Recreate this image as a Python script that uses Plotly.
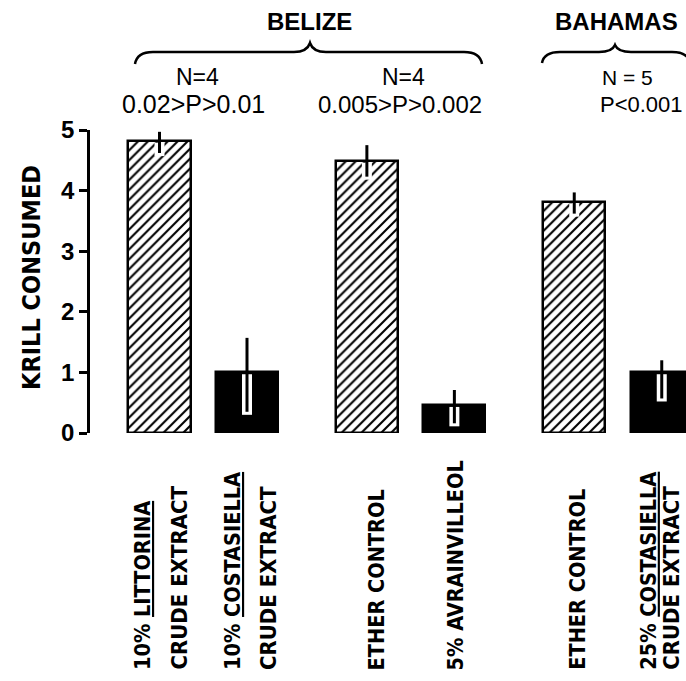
import plotly.graph_objects as go

# ---------------- data ----------------
label_line1 = ["10% <u>LITTORINA</u>", "10% <u>COSTASIELLA</u>", "ETHER CONTROL",
               "5% AVRAINVILLEOL", "ETHER CONTROL", "25% <u>COSTASIELLA</u>"]
label_line2 = ["CRUDE EXTRACT", "CRUDE EXTRACT", "", "", "", "CRUDE EXTRACT"]
treatment_kind = ["control", "test", "control", "test", "control", "test"]
pair_index = [0, 0, 1, 1, 2, 2]
krill_consumed = [4.82, 1.00, 4.49, 0.46, 3.82, 1.00]
err_up = [0.15, 0.57, 0.26, 0.25, 0.15, 0.20]
err_down = [0.20, 0.65, 0.26, 0.30, 0.20, 0.43]
site_names = ["BELIZE", "BAHAMAS"]
pair_n = ["N=4", "N=4", "N = 5"]
pair_p = ["0.02>P>0.01", "0.005>P>0.002", "P<0.001"]
y_ticks = [0, 1, 2, 3, 4, 5]

# ---------------- layout helpers ----------------
W, H = 686, 681
L, T, B, R = 90, 130, 248, 0
PW, PH = W - L - R, H - T - B
COND = "DejaVu Sans Condensed, DejaVu Sans, sans-serif"
SANS = "Liberation Sans, Arial, sans-serif"


def px(xp):
    return (xp - L) / PW


def py(yp):
    return (T + PH - yp) / PH


def tfont(size, fam=COND, weight="bold"):
    return dict(family=fam, size=size, color="black", weight=weight)


# bar positions: pairs separated by a wider gap
pos = []
seen = {}
for g in pair_index:
    k = seen.get(g, 0)
    pos.append(g * 2.37 + k * 1.0)
    seen[g] = k + 1

fig = go.Figure()

ctrl_x = [p for p, k in zip(pos, treatment_kind) if k == "control"]
ctrl_y = [v for v, k in zip(krill_consumed, treatment_kind) if k == "control"]
test_x = [p for p, k in zip(pos, treatment_kind) if k == "test"]
test_y = [v for v, k in zip(krill_consumed, treatment_kind) if k == "test"]

fig.add_trace(go.Bar(
    x=ctrl_x, y=ctrl_y, width=0.71,
    marker=dict(color="white", line=dict(color="black", width=2.5),
                pattern=dict(shape="/", fgcolor="black", bgcolor="white",
                             size=7, solidity=0.3, fillmode="replace")),
    showlegend=False, hoverinfo="skip",
))
fig.add_trace(go.Bar(
    x=test_x, y=test_y, width=0.71,
    marker=dict(color="black", line=dict(color="black", width=2.5)),
    showlegend=False, hoverinfo="skip",
))

# error bars: white halo inside the bar, black line on top
hx, hy, ex, ey = [], [], [], []
for xv, v, u, d in zip(pos, krill_consumed, err_up, err_down):
    hx += [xv, xv, None]
    hy += [v - d - 0.05, v - 0.03, None]
    ex += [xv, xv, None]
    ey += [v - d, v + u, None]
fig.add_trace(go.Scatter(x=hx, y=hy, mode="lines",
                         line=dict(color="white", width=10),
                         showlegend=False, hoverinfo="skip"))
fig.add_trace(go.Scatter(x=ex, y=ey, mode="lines",
                         line=dict(color="black", width=3),
                         showlegend=False, hoverinfo="skip"))

ann = []
# axis title
ann.append(dict(text="KRILL CONSUMED", xref="paper", yref="paper",
                x=px(31), y=py(278), textangle=-90, showarrow=False,
                xanchor="center", yanchor="middle", font=tfont(25)))

# bottom labels
off1 = [-17, -15, 10, 1, 3, -14]
off2 = [19, 21, 0, 0, 0, 9]
for i, xv in enumerate(pos):
    ann.append(dict(text=label_line1[i], xref="x", yref="paper", x=xv,
                    xshift=off1[i], y=py(672), textangle=-90, showarrow=False,
                    xanchor="center", yanchor="bottom", font=tfont(21.5)))
    if label_line2[i]:
        ann.append(dict(text=label_line2[i], xref="x", yref="paper", x=xv,
                        xshift=off2[i], y=py(672), textangle=-90, showarrow=False,
                        xanchor="center", yanchor="bottom", font=tfont(22)))

# site names
site_px = [309, 616]
for s, xp in zip(site_names, site_px):
    ann.append(dict(text=s, xref="paper", yref="paper", x=px(xp), y=py(22),
                    showarrow=False, xanchor="center", yanchor="middle",
                    font=tfont(24, SANS)))

# N and P statistics
n_px = [197, 403, 627]
p_px = [193, 400, 641]
p_size = [25, 24, 22]
for i in range(3):
    ann.append(dict(text=pair_n[i], xref="paper", yref="paper", x=px(n_px[i]), y=py(77),
                    showarrow=False, xanchor="center", yanchor="middle",
                    font=tfont(23 if i < 2 else 21, SANS, "normal")))
    ann.append(dict(text=pair_p[i], xref="paper", yref="paper", x=px(p_px[i]), y=py(104),
                    showarrow=False, xanchor="center", yanchor="middle",
                    font=tfont(p_size[i], SANS, "normal")))


def brace(x0, xm, x1, y_end, y_bar, y_peak):
    pts = lambda a, b: f"{px(a):.5f},{py(b):.5f}"
    return (f"M {pts(x0, y_end)} Q {pts(x0 + 2, y_bar)} {pts(x0 + 18, y_bar)} "
            f"L {pts(xm - 16, y_bar)} Q {pts(xm - 3, y_bar)} {pts(xm, y_peak)} "
            f"Q {pts(xm + 3, y_bar)} {pts(xm + 16, y_bar)} "
            f"L {pts(x1 - 18, y_bar)} Q {pts(x1 - 2, y_bar)} {pts(x1, y_end)}")


shapes = [
    dict(type="path", xref="paper", yref="paper", path=brace(135, 310, 482, 64, 52, 43),
         line=dict(color="black", width=2.5)),
    dict(type="path", xref="paper", yref="paper", path=brace(542, 615, 690, 63, 52, 45),
         line=dict(color="black", width=2.5)),
]

fig.update_layout(
    width=W, height=H,
    margin=dict(l=L, r=R, t=T, b=B, pad=0),
    paper_bgcolor="white", plot_bgcolor="white",
    annotations=ann, shapes=shapes,
    barmode="overlay", bargap=0,
    xaxis=dict(visible=False, range=[(L - 159.5) / 87.5, (W - 159.5) / 87.5]),
    yaxis=dict(range=[0, 5], tickvals=y_ticks, ticktext=[str(t) for t in y_ticks],
               showline=True, linecolor="black", linewidth=2.5,
               ticks="outside", ticklen=8, tickwidth=2.5, tickcolor="black",
               showgrid=False, zeroline=False,
               tickfont=tfont(24, SANS)),
)

fig.write_html("out.html", config={"displayModeBar": False},
               post_script="document.body.style.margin='0';document.body.style.overflow='hidden';")
